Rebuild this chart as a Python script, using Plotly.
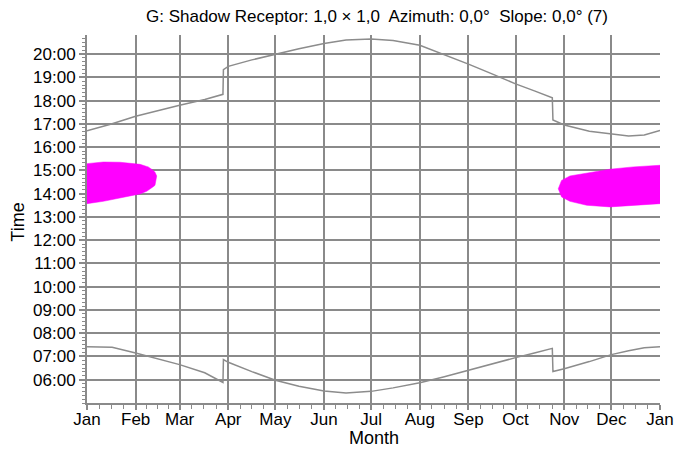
import plotly.graph_objects as go

# ---- data (day of year, hours) ----
month_labels = ["Jan", "Feb", "Mar", "Apr", "May", "Jun", "Jul", "Aug", "Sep", "Oct", "Nov", "Dec", "Jan"]
month_days = [0, 31, 59, 90, 120, 151, 181, 212, 243, 273, 304, 334, 365]

hour_ticks = [6, 7, 8, 9, 10, 11, 12, 13, 14, 15, 16, 17, 18, 19, 20]
hour_labels = ["%02d:00" % h for h in hour_ticks]

sunset_days = [0, 15, 31, 45, 59, 75, 86.6, 86.9, 90, 105, 120, 135, 151, 165, 181, 195,
               212, 227, 243, 258, 273, 285, 296.4, 296.8, 304, 320, 334, 345, 355, 365]
sunset_hours = [16.70, 16.98, 17.33, 17.58, 17.80, 18.05, 18.27, 19.33, 19.47, 19.75, 20.00, 20.23,
                20.45, 20.60, 20.65, 20.58, 20.38, 20.00, 19.57, 19.15, 18.72, 18.42, 18.12, 17.17,
                16.95, 16.68, 16.55, 16.48, 16.52, 16.72]

sunrise_days = [0, 16, 31, 45, 59, 75, 86.6, 86.9, 90, 105, 120, 135, 151, 165, 181, 195,
                212, 227, 243, 258, 273, 285, 296.4, 296.8, 304, 320, 334, 345, 355, 365]
sunrise_hours = [7.42, 7.40, 7.15, 6.90, 6.65, 6.30, 5.88, 6.87, 6.75, 6.35, 5.98, 5.72,
                 5.52, 5.43, 5.50, 5.65, 5.87, 6.12, 6.42, 6.68, 6.95, 7.15, 7.35, 6.35,
                 6.47, 6.78, 7.08, 7.25, 7.38, 7.42]

# shadow area, early in the year
jan_days = [0, 10.4, 21, 25.3, 29.5, 33.8, 38, 39, 42.2, 43.3, 44.4]
jan_top = [15.29, 15.36, 15.35, 15.33, 15.30, 15.26, 15.17, 15.15, 15.00, 14.92, 14.76]
jan_bottom = [13.57, 13.67, 13.82, 13.86, 13.93, 13.99, 14.10, 14.13, 14.30, 14.36, 14.76]

# shadow area, late in the year
dec_days = [300.2, 302.3, 307.6, 318.3, 333.1, 348, 365]
dec_top = [14.21, 14.57, 14.76, 14.89, 15.05, 15.15, 15.22]
dec_bottom = [14.21, 13.86, 13.67, 13.50, 13.43, 13.50, 13.57]

GRID = "#8a8a8a"
LINE = "#8c8c8c"
MAGENTA = "#ff00ff"
FONT = "Liberation Sans, Arial, sans-serif"

fig = go.Figure()

for d, t, b in [(jan_days, jan_top, jan_bottom), (dec_days, dec_top, dec_bottom)]:
    xs = list(d) + list(d)[::-1]
    ys = list(t) + list(b)[::-1]
    fig.add_trace(go.Scatter(x=xs, y=ys, mode="lines", fill="toself", fillcolor=MAGENTA,
                             line=dict(color=MAGENTA, width=0.5), hoverinfo="skip",
                             showlegend=False))

fig.add_trace(go.Scatter(x=sunset_days, y=sunset_hours, mode="lines",
                         line=dict(color=LINE, width=1.5), showlegend=False))
fig.add_trace(go.Scatter(x=sunrise_days, y=sunrise_hours, mode="lines",
                         line=dict(color=LINE, width=1.5), showlegend=False))

# minor ticks: each month split into quarters, 10-minute steps on time axis
x_minor = []
for i in range(len(month_days) - 1):
    a, b = month_days[i], month_days[i + 1]
    for k in range(1, 4):
        x_minor.append(a + (b - a) * k / 4)
y_minor = [5 + k / 6 for k in range(0, 96) if (5 + k / 6) <= 20.82]

fig.update_xaxes(range=[0, 365], tickmode="array", tickvals=month_days, ticktext=month_labels,
                 automargin=False,
                 showgrid=True, gridcolor=GRID, gridwidth=2, zeroline=False,
                 showline=True, linecolor=GRID, linewidth=2,
                 ticks="outside", ticklen=5, tickcolor=GRID, tickwidth=1.5,
                 ticklabelstandoff=-5,
                 tickfont=dict(family=FONT, size=17, color="#000"),
                 minor=dict(tickmode="array", tickvals=x_minor, ticks="outside", ticklen=4,
                            tickcolor=GRID, tickwidth=1, showgrid=False))
fig.update_yaxes(range=[5.0, 20.82], tickmode="array", tickvals=hour_ticks, ticktext=hour_labels,
                 automargin=False,
                 showgrid=True, gridcolor=GRID, gridwidth=2, zeroline=False,
                 showline=True, linecolor=GRID, linewidth=2,
                 ticks="outside", ticklen=6, tickcolor=GRID, tickwidth=1.5,
                 tickfont=dict(family=FONT, size=17, color="#000"),
                 minor=dict(tickmode="array", tickvals=y_minor, ticks="outside", ticklen=3,
                            tickcolor=GRID, tickwidth=1, showgrid=False))

fig.update_layout(
    width=674, height=450,
    margin=dict(l=87, r=14, t=35, b=47, autoexpand=False),
    plot_bgcolor="white", paper_bgcolor="white",
    font=dict(family=FONT, color="#000"),
    title=dict(text="G: Shadow Receptor: 1,0 × 1,0  Azimuth: 0,0°  Slope: 0,0° (7)",
               font=dict(family=FONT, size=17, color="#000"),
               x=0.5 + 3.5 / 573, xref="paper", y=1 - 16 / 450, yref="container",
               xanchor="center", yanchor="middle"),
    annotations=[
        dict(text="Month", xref="paper", yref="paper", x=0.5, y=-35 / 368,
             showarrow=False, xanchor="center", yanchor="middle",
             font=dict(family=FONT, size=18, color="#000")),
        dict(text="Time", xref="paper", yref="paper", x=-69 / 573, y=0.49,
             showarrow=False, textangle=-90, xanchor="center", yanchor="middle",
             font=dict(family=FONT, size=18, color="#000")),
    ],
)

fig.write_html("out.html", config={"displayModeBar": False},
               post_script="document.body.style.margin='0';document.body.style.padding='0';")
